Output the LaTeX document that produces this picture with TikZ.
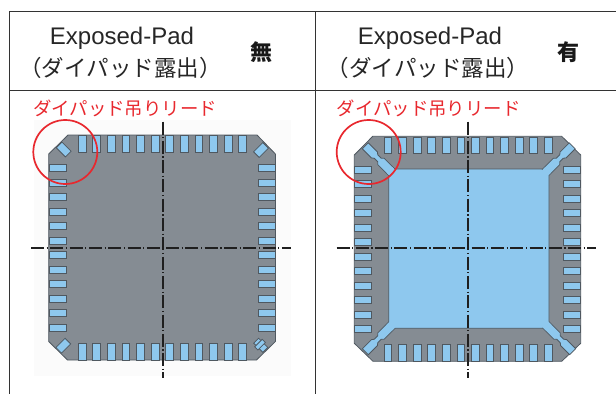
\documentclass[tikz,border=0pt]{standalone}
\usepackage{fontspec}
\setmainfont{Liberation Sans}
\newfontfamily\cjk{Noto Sans CJK JP}
\usepackage{xcolor}
\definecolor{pkggray}{HTML}{858C93}
\definecolor{padblue}{HTML}{8EC8EE}
\definecolor{edgegray}{HTML}{4F5860}
\definecolor{markred}{HTML}{E8282E}
\tikzset{
	rule/.style={line width=1pt, draw=black!80},
	body/.style={fill=pkggray, draw=edgegray, line width=0.8pt},
	pin/.style={fill=padblue, draw=edgegray, line width=0.8pt},
	center line/.style={line width=2pt, draw=black!88, dash pattern=on 13pt off 2.6pt on 1.2pt off 2.5pt},
	mark ring/.style={line width=1.7pt, draw=markred},
	title/.style={font=\fontsize{24}{26}\selectfont, text=black!85},
	jp title/.style={font=\fontsize{22.5}{24}\selectfont\cjk, text=black!85},
	yesno/.style={font=\fontsize{22}{24}\selectfont\cjk\bfseries, text=black!90},
	red label/.style={font=\fontsize{18.4}{22}\selectfont\cjk, text=markred}
}
\newcommand{\leadrow}[2]{% left x, top y of the row of pins
	\foreach \i in {0,...,11} {
		\draw [pin] ({#1+14.58*\i},#2) rectangle ++(7.8,16.5);
	}
}
\newcommand{\leadcol}[2]{% left x, top y of the column of pins
	\foreach \i in {0,...,11} {
		\draw [pin] (#1,{#2+14.5*\i}) rectangle ++(17,7);
	}
}
\newcommand{\tiebar}[3]{% pad corner x, y and direction
	\draw [pin, shift={(#1,#2)}, rotate=#3] (-2,-4.5) -- (15,-4.5) -- (17,-2.5) -- (22,-2.5) -- (24,-4.2) -- (37,-4.2) -- (37,4.2) -- (24,4.2) -- (22,2.5) -- (17,2.5) -- (15,4.5) -- (-2,4.5);
}
\begin{document}
\begin{tikzpicture}[x=1pt, y=-1pt]
	\useasboundingbox (0,0) rectangle (616,394);
	\fill [black!1.5] (34,120) rectangle (291,376);

	% left package
	\draw [body] (68,135) -- (257,135) -- (275.4,154) -- (275.4,341.5) -- (256.5,360) -- (67.5,360) -- (48.7,341.5) -- (48.7,154) -- cycle;
	\leadrow{78.3}{135.5}
	\leadrow{78.3}{343.5}
	\leadcol{48.9}{164.5}
	\leadcol{258.2}{164.5}
	\draw [pin, rotate around={-45:(63.7,149.5)}] (57.2,145.5) rectangle (70.2,153.5);
	\draw [pin, rotate around={45:(261,150)}] (254.5,146) rectangle (267.5,154);
	\draw [pin, rotate around={45:(63.3,345.7)}] (56.8,341.7) rectangle (69.8,349.7);
	\draw [pin, rotate around={-45:(260.7,345.3)}] (254.2,341.8) rectangle (267.2,348.8);
	\draw [pin, rotate around={-45:(260.7,345.3)}] (257.5,340) rectangle (262,350.6);

	% right package
	\draw [body] (372.7,136.3) -- (561.7,136.3) -- (580.7,155) -- (580.7,343.3) -- (561.7,361.3) -- (373,361.3) -- (354.3,343.3) -- (354.3,155) -- cycle;
	\leadrow{384}{137}
	\leadrow{384}{344.7}
	\leadcol{354.5}{166.2}
	\leadcol{563.8}{166.2}
	\tiebar{391.5}{172}{135}
	\tiebar{546}{172}{45}
	\tiebar{391.5}{325.5}{225}
	\tiebar{546.5}{325.5}{-45}
	\draw [pin] (394.3,169) -- (542,169) -- (549,175) -- (549,322.5) -- (542.5,328.3) -- (393,328.3) -- (388.7,322.5) -- (388.7,176) -- cycle;
	% cover the joints of the bars
	\fill [padblue, shift={(391.5,172)}, rotate=135] (-3,-3.9) rectangle (3,3.9);
	\fill [padblue, shift={(546,172)}, rotate=45] (-3,-3.9) rectangle (3,3.9);
	\fill [padblue, shift={(391.5,325.5)}, rotate=225] (-3,-3.9) rectangle (3,3.9);
	\fill [padblue, shift={(546.5,325.5)}, rotate=-45] (-3,-3.9) rectangle (3,3.9);

	% center lines
	\draw [center line] (31,248.3) -- (290.5,248.3);
	\draw [center line] (162.5,121.5) -- (162.5,377.7);
	\draw [center line] (336.5,248.3) -- (596,248.3);
	\draw [center line] (467.5,121.5) -- (467.5,377.7);

	% table
	\draw [rule] (9,11) -- (616,11);
	\draw [rule] (9,90) -- (616,90);
	\draw [rule] (9,11) -- (9,394);
	\draw [rule] (315,11) -- (315,394);

	\node [title] (titleL) at (122,38.5) {Exposed-Pad};
	\node [title] (titleR) at (430,38.5) {Exposed-Pad};
	\node [jp title] (subL) at (120.5,68) {（ダイパッド露出）};
	\node [jp title] (subR) at (428,68) {（ダイパッド露出）};
	\node [yesno] (noPad) at (261,52) {無};
	\node [yesno] (hasPad) at (568,52) {有};

	\node [red label] (tieL) at (125,108) {ダイパッド吊りリード};
	\node [red label] (tieR) at (428.7,108) {ダイパッド吊りリード};
	\draw [mark ring] (65.3,152) circle (32);
	\draw [mark ring] (368.7,152) circle (32);
\end{tikzpicture}
\end{document}
